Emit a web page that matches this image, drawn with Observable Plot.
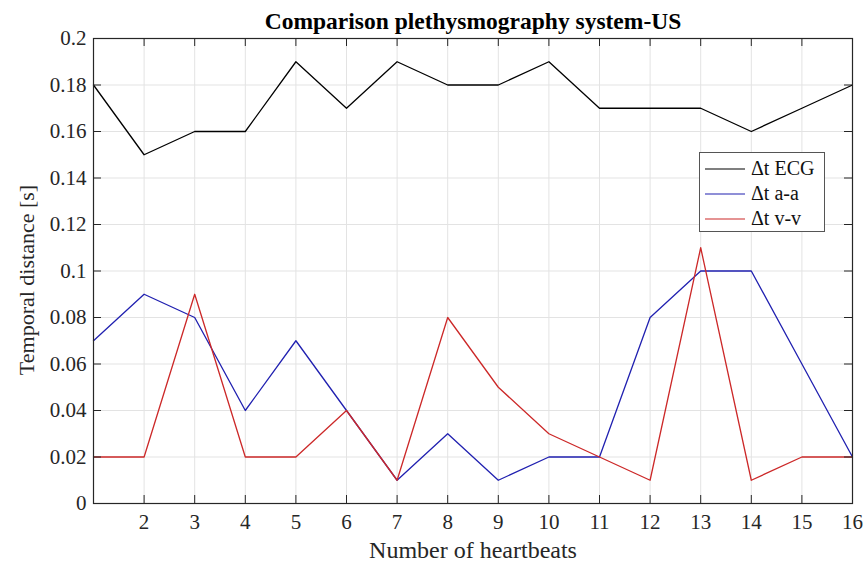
<!DOCTYPE html>
<html>
<head>
<meta charset="utf-8">
<script src="https://cdn.jsdelivr.net/npm/d3@7"></script>
<script src="https://cdn.jsdelivr.net/npm/@observablehq/plot@0.6"></script>
<style>
  html, body { margin: 0; padding: 0; background: #fff; }
  #wrap { position: relative; width: 867px; height: 566px; font-family: "Liberation Serif", "Times New Roman", serif; }
  #legend { position: absolute; left: 699px; top: 152px; width: 124px; height: 78px; border: 1px solid #555; background: #fff; box-sizing: content-box; }
  .row { position: absolute; left: 0; height: 25px; display: flex; align-items: center; font-size: 20px; color: #111; }
  .row svg { margin-left: 5px; margin-right: 6px; }
</style>
</head>
<body>
<div id="wrap"></div>
<script>
const beats = [1,2,3,4,5,6,7,8,9,10,11,12,13,14,15,16];
const ecg = [0.18,0.15,0.16,0.16,0.19,0.17,0.19,0.18,0.18,0.19,0.17,0.17,0.17,0.16,0.17,0.18];
const aa  = [0.07,0.09,0.08,0.04,0.07,0.04,0.01,0.03,0.01,0.02,0.02,0.08,0.10,0.10,0.06,0.02];
const vv  = [0.02,0.02,0.09,0.02,0.02,0.04,0.01,0.08,0.05,0.03,0.02,0.01,0.11,0.01,0.02,0.02];
const seriesNames = ["\u0394t ECG", "\u0394t a-a", "\u0394t v-v"];
const seriesColors = ["#000000", "#2020b0", "#cc2828"];
const xTicks = [2,3,4,5,6,7,8,9,10,11,12,13,14,15,16];
const yTicks = [0,0.02,0.04,0.06,0.08,0.1,0.12,0.14,0.16,0.18,0.2];
const yTickLabels = ["0","0.02","0.04","0.06","0.08","0.1","0.12","0.14","0.16","0.18","0.2"];
const title = "Comparison plethysmography system-US";
const xLabel = "Number of heartbeats";
const yLabel = "Temporal distance [s]";

const allSeries = [ecg, aa, vv];
const data = allSeries.flatMap((vals, si) => vals.map((v, i) => ({beat: beats[i], value: v, series: seriesNames[si]})));

const W = 867, H = 566, mL = 93, mR = 15, mT = 38, mB = 63;
const pw = W - mL - mR, ph = H - mT - mB;
const axisColor = "#262626";
const font = "Liberation Serif";

const chart = Plot.plot({
  width: W, height: H,
  marginLeft: mL, marginRight: mR, marginTop: mT, marginBottom: mB,
  style: {fontFamily: font, background: "#fff", color: axisColor},
  x: {domain: [1, 16]},
  y: {domain: [0, 0.2]},
  color: {domain: seriesNames, range: seriesColors},
  marks: [
    Plot.gridX(xTicks, {stroke: "#e3e3e3", strokeOpacity: 1}),
    Plot.gridY(yTicks, {stroke: "#e3e3e3", strokeOpacity: 1}),
    Plot.line(data, {x: "beat", y: "value", z: "series", stroke: "series", strokeWidth: 1.3}),
    Plot.frame({stroke: axisColor, strokeWidth: 1.2}),
    Plot.ruleX(xTicks, {x: d => d, insetTop: ph - 8, stroke: axisColor}),
    Plot.ruleX(xTicks, {x: d => d, insetBottom: ph - 8, stroke: axisColor}),
    Plot.ruleY(yTicks, {y: d => d, insetRight: pw - 8, stroke: axisColor}),
    Plot.ruleY(yTicks, {y: d => d, insetLeft: pw - 8, stroke: axisColor}),
    Plot.axisX({ticks: xTicks, tickSize: 0, tickPadding: 11, fontSize: 21, label: null, tickFormat: d => String(d)}),
    Plot.axisY({ticks: yTicks, tickSize: 0, tickPadding: 7, fontSize: 21, label: null, tickFormat: d => yTickLabels[yTicks.indexOf(d)]}),
    Plot.text([title], {text: d => d, frameAnchor: "top", lineAnchor: "middle", textAnchor: "middle", dy: -17, fontSize: 23.5, fontWeight: "bold", fill: "#000"}),
    Plot.text([xLabel], {text: d => d, frameAnchor: "bottom", lineAnchor: "middle", textAnchor: "middle", dy: 47, fontSize: 24, fill: axisColor}),
    Plot.text([yLabel], {text: d => d, frameAnchor: "left", lineAnchor: "middle", textAnchor: "middle", dx: -67, dy: 9, rotate: -90, fontSize: 22, fill: axisColor})
  ]
});
const wrap = document.getElementById("wrap");
wrap.appendChild(chart);

const legend = document.createElement("div");
legend.id = "legend";
seriesNames.forEach((name, i) => {
  const row = document.createElement("div");
  row.className = "row";
  row.style.top = (3 + i * 25) + "px";
  row.innerHTML = `<svg width="40" height="4"><line x1="0" y1="2" x2="40" y2="2" stroke="${seriesColors[i]}" stroke-width="1.2"/></svg><span>${name}</span>`;
  legend.appendChild(row);
});
wrap.appendChild(legend);
</script>
</body>
</html>
